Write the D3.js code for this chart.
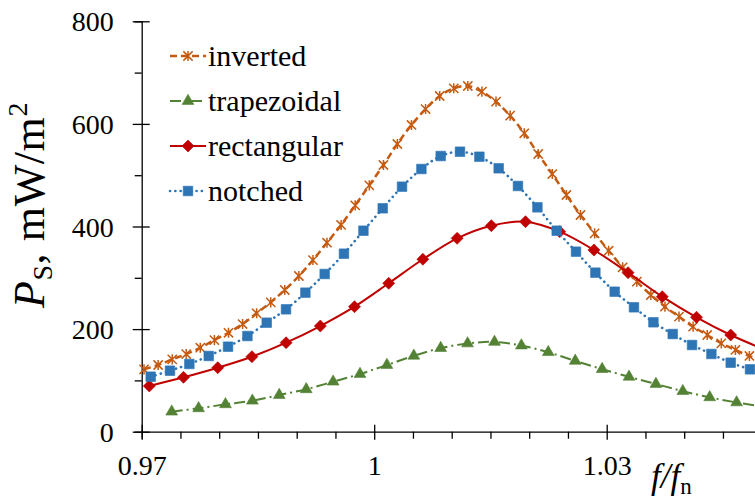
<!DOCTYPE html>
<html><head><meta charset="utf-8">
<script src="https://cdn.jsdelivr.net/npm/d3@7"></script>
<style>
body{margin:0;background:#fff}
svg{display:block}
</style>
</head><body>
<svg id="c" width="755" height="502"></svg>
<script>
// ---- data ----
const xTickValues = [0.97, 1, 1.03];
const xTickLabels = ["0.97", "1", "1.03"];
const xMinorTicks = [0.975, 0.98, 0.985, 0.99, 0.995, 1.005, 1.01, 1.015, 1.02, 1.025, 1.035, 1.04, 1.045];
const yTickValues = [0, 200, 400, 600, 800];
const yMinorTicks = [100, 300, 500, 700];
const seriesNames = ["inverted", "trapezoidal", "rectangular", "notched"];

const invertedX = [0.9703,0.97212,0.97394,0.97574,0.97756,0.97938,0.9812,0.98302,0.98483,0.98665,0.98846,0.99028,0.9921,0.99391,0.99573,0.99755,0.99937,1.00119,1.00299,1.00481,1.00663,1.00845,1.01027,1.01208,1.0139,1.01572,1.01754,1.01936,1.02116,1.02298,1.0248,1.02662,1.02844,1.03025,1.03206,1.03389,1.0357,1.03752,1.03933,1.04115,1.04297,1.04479,1.04661,1.04841,1.05023];
const invertedP = [121.6,130,141,151.4,163.7,178.6,192.8,209.9,230.8,252.2,276.2,303.5,334.6,368.4,403,441.3,480.3,519.9,560.8,597.9,629,654.4,669.4,673.9,662.8,643.3,616,581.7,541.3,502.3,461.4,422.4,386.7,352.8,320.5,292.4,266.5,243.7,224.2,204.7,188.5,172.3,159.3,147.6,137];

const trapezoidalX = [0.97387,0.97734,0.98081,0.98428,0.98775,0.99123,0.9947,0.99817,1.00164,1.00511,1.00858,1.01205,1.01552,1.01899,1.02246,1.02594,1.02941,1.03288,1.03635,1.03982,1.04329,1.04676,1.05023];
const trapezoidalP = [39,45.6,53.4,60.4,71.5,82.7,97.5,112.5,130,148,163,172,175,168,155,138,122,107,93,79,67,57,49];

const rectangularX = [0.97098,0.97539,0.97981,0.98422,0.98863,0.99305,0.99746,1.00187,1.00628,1.0107,1.01511,1.01952,1.02394,1.02835,1.03276,1.03717,1.04159,1.046,1.05041];
const rectangularP = [89.1,106,124.8,146.2,173.5,206,243.7,289.3,336.1,377,401.6,409.4,390,354.2,310,263.2,223,188.5,160];

const notchedX = [0.97116,0.97365,0.97615,0.97865,0.98114,0.98364,0.98613,0.98862,0.99112,0.99361,0.9961,0.99861,1.0011,1.00359,1.00609,1.00858,1.01107,1.01357,1.01606,1.01855,1.02106,1.02355,1.02604,1.02854,1.03103,1.03352,1.03603,1.03852,1.04101,1.04351,1.046,1.04849,1.05098];
const notchedP = [107.2,118.9,132,147.6,165.7,186.5,212.5,238.6,271,307.4,347,391.8,435.5,477.6,512.1,537.4,545.8,536,513.5,479,437.4,391.8,350.9,310,272.9,242.5,213.3,190.4,169,151.5,134.5,121.6,109];

// ---- chart ----
const FONT = "'Liberation Serif', 'Times New Roman', Tinos, 'DejaVu Serif', serif";
const svg = d3.select("#c");
const x = d3.scaleLinear().domain([0.97, 1.05]).range([141.7, 761.7]);
const y = d3.scaleLinear().domain([0, 800]).range([431.7, 21.3]);

const starSym = {draw(ctx, size){const r=Math.sqrt(size)/2;ctx.moveTo(-r,-r);ctx.lineTo(r,r);ctx.moveTo(r,-r);ctx.lineTo(-r,r);ctx.moveTo(0,-r*1.1);ctx.lineTo(0,r*1.1);}};

const styles = [
  {name:seriesNames[0], xs:invertedX, ys:invertedP, color:"#C55A11", dash:"7,4", width:2.5, cap:"butt", sym:starSym, size:85, fillSym:false, rot:0},
  {name:seriesNames[1], xs:trapezoidalX, ys:trapezoidalP, color:"#548235", dash:"11,4,2,4", width:2, cap:"butt", sym:d3.symbolTriangle, size:60, fillSym:true, rot:0},
  {name:seriesNames[2], xs:rectangularX, ys:rectangularP, color:"#C00000", dash:null, width:2, cap:"butt", sym:d3.symbolSquare, size:72, fillSym:true, rot:45},
  {name:seriesNames[3], xs:notchedX, ys:notchedP, color:"#2E75B6", dash:"0.1,5.2", width:2.6, cap:"round", sym:d3.symbolSquare, size:92, fillSym:true, rot:0}
];

// axes
const gx = svg.append("g").attr("transform", `translate(0,${y(0)})`);
gx.call(d3.axisBottom(x).tickValues(xMinorTicks).tickSize(7).tickFormat(""));
gx.append("g").call(d3.axisBottom(x).tickValues(xTickValues).tickSize(8).tickFormat((d,i)=>xTickLabels[i]))
  .call(g=>g.select(".domain").remove())
  .call(g=>g.selectAll(".tick line").attr("y1",-7).attr("y2",8))
  .call(g=>g.selectAll(".tick text").attr("y",0).attr("dy",null).attr("transform","translate(0,43)").attr("font-size",28));
gx.selectAll("path,line").attr("stroke","#000").attr("stroke-width",1.3);

const gy = svg.append("g").attr("transform", `translate(${x(0.97)},0)`);
gy.call(d3.axisLeft(y).tickValues(yMinorTicks).tickSize(7).tickFormat(""));
gy.append("g").call(d3.axisLeft(y).tickValues(yTickValues).tickSize(9).tickFormat(d3.format("d")))
  .call(g=>g.select(".domain").remove())
  .call(g=>g.selectAll(".tick line").attr("x1",-9).attr("x2",8))
  .call(g=>g.selectAll(".tick text").attr("x",-28).attr("dy","0.34em").attr("font-size",28));
gy.selectAll("path,line").attr("stroke","#000").attr("stroke-width",1.3);

// series
const line = d3.line().x(d=>x(d[0])).y(d=>y(d[1])).curve(d3.curveCatmullRom.alpha(0.5));
styles.forEach(s=>{
  const pts = s.xs.map((v,i)=>[v, s.ys[i]]);
  const g = svg.append("g");
  g.append("path").attr("d", line(pts)).attr("fill","none").attr("stroke", s.color)
    .attr("stroke-width", s.width).attr("stroke-dasharray", s.dash).attr("stroke-linecap", s.cap);
  g.selectAll("path.m").data(pts).join("path").attr("class","m")
    .attr("d", d3.symbol(s.sym, s.size)())
    .attr("transform", d=>`translate(${x(d[0])},${y(d[1])}) rotate(${s.rot})`)
    .attr("fill", s.fillSym ? s.color : "none")
    .attr("stroke", s.color).attr("stroke-width", s.fillSym ? 0.6 : 1.5);
});

// legend
styles.forEach((s,i)=>{
  const cy = 56 + i*45;
  const g = svg.append("g");
  g.append("line").attr("x1",170).attr("x2",206).attr("y1",cy).attr("y2",cy)
    .attr("stroke", s.color).attr("stroke-width", s.width).attr("stroke-dasharray", s.dash).attr("stroke-linecap", s.cap);
  g.append("path").attr("d", d3.symbol(s.sym, s.size)())
    .attr("transform", `translate(188,${cy}) rotate(${s.rot})`)
    .attr("fill", s.fillSym ? s.color : "none").attr("stroke", s.color).attr("stroke-width", s.fillSym ? 0.6 : 1.5);
  g.append("text").attr("x",208).attr("y",cy+10).attr("font-size",30).text(s.name);
});

// y label
const yl = svg.append("text").attr("transform","translate(44,205) rotate(-90)").attr("text-anchor","middle").attr("font-size",44).attr("letter-spacing",0.6);
yl.append("tspan").attr("font-style","italic").text("P");
yl.append("tspan").attr("font-size",28).attr("dy",8).text("S");
yl.append("tspan").attr("dy",-8).text(", mW/m");
yl.append("tspan").attr("font-size",28).attr("dy",-17).text("2");

// x label
const xl = svg.append("text").attr("x",651).attr("y",488).attr("font-size",35);
xl.append("tspan").attr("font-style","italic").text("f/f");
xl.append("tspan").attr("font-size",23).attr("dy",6).text("n");

svg.selectAll("text").style("font-family", FONT).style("fill", "#000");
</script>
</body></html>
